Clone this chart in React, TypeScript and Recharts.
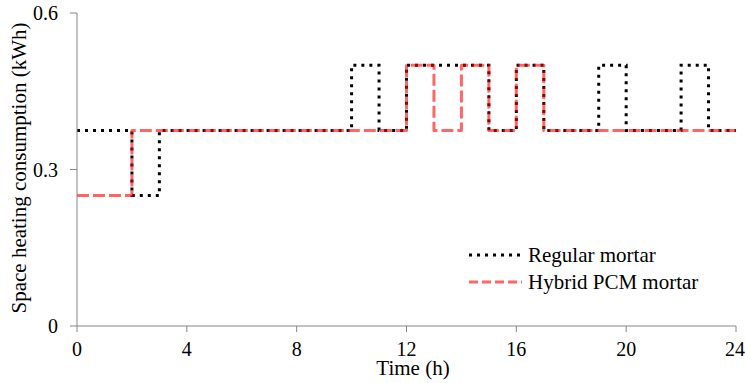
import React from 'react';
import { LineChart, Line, XAxis, YAxis, Legend } from 'recharts';

const hours = [0, 1, 2, 3, 4, 5, 6, 7, 8, 9, 10, 11, 12, 13, 14, 15, 16, 17, 18, 19, 20, 21, 22, 23, 24];
const regularMortar = [
  0.375, 0.375, 0.25, 0.375, 0.375, 0.375, 0.375, 0.375, 0.375, 0.375,
  0.5, 0.375, 0.5, 0.5, 0.5, 0.375, 0.5, 0.375, 0.375, 0.5,
  0.375, 0.375, 0.5, 0.375, 0.375,
];
const hybridPcmMortar = [
  0.25, 0.25, 0.375, 0.375, 0.375, 0.375, 0.375, 0.375, 0.375, 0.375,
  0.375, 0.375, 0.5, 0.375, 0.5, 0.375, 0.5, 0.375, 0.375, 0.375,
  0.375, 0.375, 0.375, 0.375, 0.375,
];
const xTicks = [0, 4, 8, 12, 16, 20, 24];
const yTicks = [0, 0.3, 0.6];
const seriesNames = ['Regular mortar', 'Hybrid PCM mortar'];
const xTitle = 'Time (h)';
const yTitle = 'Space heating consumption (kWh)';

const data = hours.map((h, i) => ({
  hour: h,
  regular: regularMortar[i],
  hybrid: hybridPcmMortar[i],
}));

const FONT = 'Liberation Serif, serif';
const AXIS = '#868686';

const renderLegend = () => (
  <svg width={260} height={60} style={{ display: 'block', overflow: 'visible' }}>
    <line x1={1} y1={12} x2={54} y2={12} stroke="#000" strokeWidth={3} strokeDasharray="3 5" />
    <text x={60} y={19} fontFamily={FONT} fontSize={21} fill="#000">{seriesNames[0]}</text>
    <line x1={1} y1={39} x2={54} y2={39} stroke="#FF0000" strokeOpacity={0.6} strokeWidth={3} strokeDasharray="9 4" />
    <text x={60} y={46} fontFamily={FONT} fontSize={21} fill="#000">{seriesNames[1]}</text>
  </svg>
);

export default function App() {
  return (
    <div style={{ position: 'absolute', left: 0, top: 0, width: 745, height: 383, background: '#fff', fontFamily: FONT }}>
      <LineChart
        width={745}
        height={383}
        data={data}
        margin={{ top: 13, right: 9, bottom: 0, left: 0 }}
        style={{ fontFamily: FONT }}
      >
        <XAxis
          dataKey="hour"
          type="number"
          domain={[0, 24]}
          ticks={xTicks}
          stroke={AXIS}
          tickSize={6}
          tickMargin={10}
          height={57}
          tick={{ fill: '#000', fontSize: 20, fontFamily: FONT }}
          label={{
            content: () => (
              <text x={413} y={375} textAnchor="middle" fontFamily={FONT} fontSize={21} fill="#000">
                {xTitle}
              </text>
            ),
          }}
        />
        <YAxis
          type="number"
          domain={[0, 0.6]}
          ticks={yTicks}
          stroke={AXIS}
          tickSize={7}
          tickMargin={12}
          width={77}
          tick={{ fill: '#000', fontSize: 20, fontFamily: FONT }}
          label={{
            content: () => (
              <text
                x={26}
                y={168}
                textAnchor="middle"
                transform="rotate(-90, 26, 168)"
                fontFamily={FONT}
                fontSize={21}
                fill="#000"
              >
                {yTitle}
              </text>
            ),
          }}
        />
        <Legend
          layout="horizontal"
          verticalAlign="middle"
          align="center"
          content={renderLegend}
          wrapperStyle={{ position: 'absolute', left: 468, top: 243, width: 260, height: 60 }}
        />
        <Line
          type="stepAfter"
          dataKey="regular"
          name={seriesNames[0]}
          stroke="#000000"
          strokeWidth={3}
          strokeDasharray="3 5"
          dot={false}
          activeDot={false}
          isAnimationActive={false}
        />
        <Line
          type="stepAfter"
          dataKey="hybrid"
          name={seriesNames[1]}
          stroke="#FF0000"
          strokeOpacity={0.6}
          strokeWidth={3}
          strokeDasharray="12 4"
          strokeLinejoin="round"
          dot={false}
          activeDot={false}
          isAnimationActive={false}
        />
      </LineChart>
    </div>
  );
}
